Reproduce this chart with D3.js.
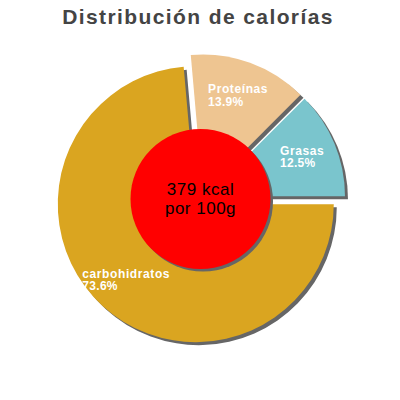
<!DOCTYPE html>
<html>
<head>
<meta charset="utf-8">
<script src="https://cdn.jsdelivr.net/npm/d3@7"></script>
<style>
  body { margin: 0; background: #fff; }
  svg { display: block; font-family: "Liberation Sans", Arial, sans-serif; }
</style>
</head>
<body>
<div id="chart"></div>
<script>
const width = 400;
const height = 400;

const categories = ["carbohidratos", "Proteínas", "Grasas"];
const percents = [73.6, 13.9, 12.5];
const sliceColors = ["#daa520", "#eec591", "#7ac5cd"];
const centerLines = ["379 kcal", "por 100g"];
const title = "Distribución de calorías";

const cx = 200.5, cy = 199;
const radius = 138;
const explode = 7;
const labelRadius = 103;

const svg = d3.select("#chart").append("svg")
    .attr("width", width)
    .attr("height", height);

svg.append("text")
    .attr("x", 198)
    .attr("y", 24)
    .attr("text-anchor", "middle")
    .attr("font-size", "21px")
    .attr("font-weight", "bold")
    .attr("letter-spacing", "1.4px")
    .attr("fill", "#444")
    .text(title);

const data = categories.map((c, i) => ({ name: c, value: percents[i], color: sliceColors[i] }));

// slices go clockwise starting at 3 o'clock
const pie = d3.pie()
    .sort(null)
    .value(d => d.value)
    .startAngle(Math.PI / 2)
    .endAngle(Math.PI / 2 + 2 * Math.PI);

const arcs = pie(data);
const arc = d3.arc().innerRadius(0).outerRadius(radius);

// where each slice's tip sits after exploding it along its bisector
function offset(d, r) {
    const mid = (d.startAngle + d.endAngle) / 2;
    return [Math.sin(mid) * r, -Math.cos(mid) * r];
}

const g = svg.append("g").attr("transform", `translate(${cx},${cy})`);

// shadows first
g.selectAll("path.shadow")
    .data(arcs)
    .join("path")
    .attr("class", "shadow")
    .attr("fill", "#666")
    .attr("d", arc)
    .attr("transform", d => {
        const o = offset(d, explode);
        return `translate(${o[0] + 3},${o[1] + 3})`;
    });

g.selectAll("path.slice")
    .data(arcs)
    .join("path")
    .attr("class", "slice")
    .attr("fill", d => d.data.color)
    .attr("d", arc)
    .attr("transform", d => {
        const o = offset(d, explode);
        return `translate(${o[0]},${o[1]})`;
    });

// labels: block centered on a point along the bisector
const labels = g.selectAll("g.label")
    .data(arcs)
    .join("g")
    .attr("class", "label");

labels.each(function(d) {
    const lg = d3.select(this);
    const t = lg.append("text")
        .attr("fill", "#fff")
        .attr("font-size", "12px")
        .attr("font-weight", "bold");
    t.append("tspan").attr("x", 0).attr("y", 0)
        .attr("letter-spacing", "0.6px")
        .text(d.data.name);
    t.append("tspan").attr("x", 0).attr("y", 12.5)
        .attr("letter-spacing", "0.3px")
        .text(d3.format(".1f")(d.data.value) + "%");
    const bb = t.node().getBBox();
    const e = offset(d, explode);
    const p = offset(d, labelRadius);
    const x = e[0] + p[0] - (bb.x + bb.width / 2);
    const y = e[1] + p[1] - (bb.y + bb.height / 2);
    lg.attr("transform", `translate(${x},${y})`);
});

// center disc
g.append("circle")
    .attr("cx", 2.5).attr("cy", 2.5)
    .attr("r", 70)
    .attr("fill", "#666");
g.append("circle")
    .attr("r", 70)
    .attr("fill", "#ff0000");

g.append("text")
    .attr("text-anchor", "middle")
    .attr("font-size", "17px")
    .attr("letter-spacing", "0.5px")
    .attr("fill", "#000")
    .selectAll("tspan")
    .data(centerLines)
    .join("tspan")
    .attr("x", 0)
    .attr("y", (d, i) => -4 + i * 19)
    .text(d => d);
</script>
</body>
</html>
